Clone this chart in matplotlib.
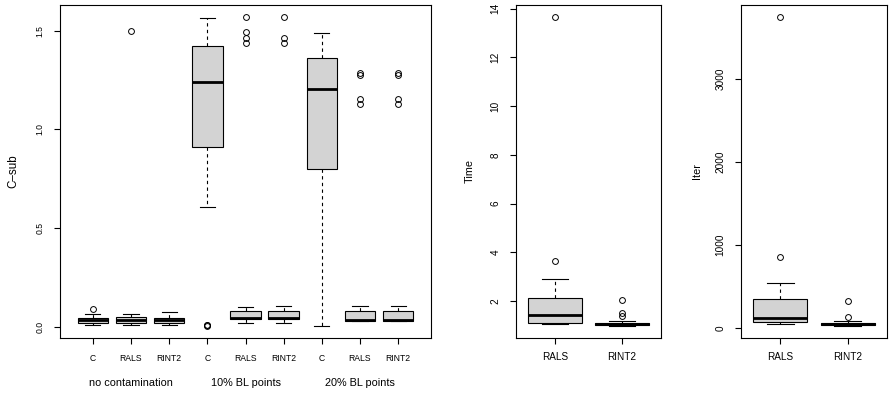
import matplotlib
matplotlib.use("Agg")
import matplotlib.pyplot as plt
from matplotlib.transforms import blended_transform_factory

plt.rcParams['font.family'] = ['Liberation Sans', 'DejaVu Sans']

# ---------------- data ----------------
methods = ["C", "RALS", "RINT2", "C", "RALS", "RINT2", "C", "RALS", "RINT2"]
groups = ["no contamination", "10% BL points", "20% BL points"]
group_centers = [2, 5, 8]

csub_whislo = [0.010, 0.010, 0.010, 0.605, 0.017, 0.017, 0.006, 0.029, 0.029]
csub_q1 = [0.019, 0.019, 0.019, 0.909, 0.038, 0.038, 0.797, 0.031, 0.031]
csub_med = [0.033, 0.036, 0.034, 1.241, 0.044, 0.044, 1.204, 0.036, 0.036]
csub_q3 = [0.044, 0.049, 0.047, 1.423, 0.082, 0.082, 1.359, 0.080, 0.080]
csub_whishi = [0.065, 0.066, 0.073, 1.562, 0.099, 0.104, 1.489, 0.105, 0.105]
csub_out = [[0.090], [1.497], [], [0.006, 0.008, 0.010],
            [1.567, 1.495, 1.464, 1.439], [1.567, 1.464, 1.439], [],
            [1.287, 1.277, 1.155, 1.126], [1.287, 1.277, 1.155, 1.126]]
csub_yticks = [0.0, 0.5, 1.0, 1.5]
csub_yticklabels = ["0.0", "0.5", "1.0", "1.5"]

algos = ["RALS", "RINT2"]

time_whislo = [1.04, 0.98]
time_q1 = [1.11, 1.00]
time_med = [1.41, 1.05]
time_q3 = [2.10, 1.10]
time_whishi = [2.88, 1.16]
time_out = [[3.65, 13.65], [1.37, 1.48, 2.03]]
time_yticks = [2, 4, 6, 8, 10, 12, 14]
time_yticklabels = ["2", "4", "6", "8", "10", "12", "14"]

iter_whislo = [48, 28]
iter_q1 = [75, 35]
iter_med = [117, 45]
iter_q3 = [346, 62]
iter_whishi = [547, 84]
iter_out = [[860, 3740], [129, 330]]
iter_yticks = [0, 1000, 2000, 3000]
iter_yticklabels = ["0", "1000", "2000", "3000"]

# ---------------- layout ----------------
W, H = 891, 396
fig = plt.figure(figsize=(W / 100, H / 100), dpi=100)
fig.patch.set_facecolor("white")


def add_ax(x0, x1, y0=5, y1=338):
    return fig.add_axes([x0 / W, 1 - y1 / H, (x1 - x0) / W, (y1 - y0) / H])


def draw(ax, lo, q1, med, q3, hi, out, labels, yticks, yticklabels,
         ylabel, tick_fs, label_fs, xpad, ylabel_px):
    stats = []
    for a, b, c, d, e, f in zip(lo, q1, med, q3, hi, out):
        stats.append(dict(whislo=a, q1=b, med=c, q3=d, whishi=e, fliers=f))
    n = len(stats)
    pos = list(range(1, n + 1))
    ax.bxp(stats, positions=pos, widths=0.8, capwidths=0.4, patch_artist=True,
           boxprops=dict(facecolor="#d3d3d3", edgecolor="black", linewidth=0.8),
           medianprops=dict(color="black", linewidth=2.0, solid_capstyle="butt"),
           whiskerprops=dict(color="black", linewidth=0.8, linestyle=(0, (3, 3))),
           capprops=dict(color="black", linewidth=0.8),
           flierprops=dict(marker="o", markerfacecolor="none",
                           markeredgecolor="black", markersize=4.2,
                           markeredgewidth=0.7))
    ax.set_xlim(0.5 - 0.04 * n, n + 0.5 + 0.04 * n)
    vals = list(lo) + list(hi) + [v for f in out for v in f]
    vmin, vmax = min(vals), max(vals)
    p = 0.04 * (vmax - vmin)
    ax.set_ylim(vmin - p, vmax + p)
    ax.set_xticks(pos, labels, fontsize=tick_fs)
    ax.set_yticks(yticks, yticklabels, rotation=90, va="center", fontsize=tick_fs)
    ax.tick_params(axis="x", direction="out", length=4.3, width=0.8, pad=xpad)
    ax.tick_params(axis="y", direction="out", length=4.3, width=0.8, pad=6.8)
    for s in ax.spines.values():
        s.set_linewidth(0.8)
        s.set_color("black")
    ax.set_ylabel(ylabel, fontsize=label_fs, va="center")
    bb = ax.get_position()
    ax.yaxis.set_label_coords(-ylabel_px / (bb.width * W), 0.5)


ax1 = add_ax(60, 431)
ax2 = add_ax(516, 661)
ax3 = add_ax(741, 887)

draw(ax1, csub_whislo, csub_q1, csub_med, csub_q3, csub_whishi, csub_out,
     methods, csub_yticks, csub_yticklabels, "C\u2013sub", 6.2, 8.4, 7.2, 47)
draw(ax2, time_whislo, time_q1, time_med, time_q3, time_whishi, time_out,
     algos, time_yticks, time_yticklabels, "Time", 7.2, 7.8, 6.1, 46)
draw(ax3, iter_whislo, iter_q1, iter_med, iter_q3, iter_whishi, iter_out,
     algos, iter_yticks, iter_yticklabels, "Iter", 7.2, 7.8, 6.1, 44)

tr = blended_transform_factory(ax1.transData, ax1.transAxes)
for g, c in zip(groups, group_centers):
    ax1.annotate(g, xy=(c, 0), xycoords=tr, xytext=(0, -45 * 0.72),
                 textcoords="offset points", ha="center", va="center",
                 fontsize=7.8)

fig.savefig("out.png", dpi=100, facecolor="white")
